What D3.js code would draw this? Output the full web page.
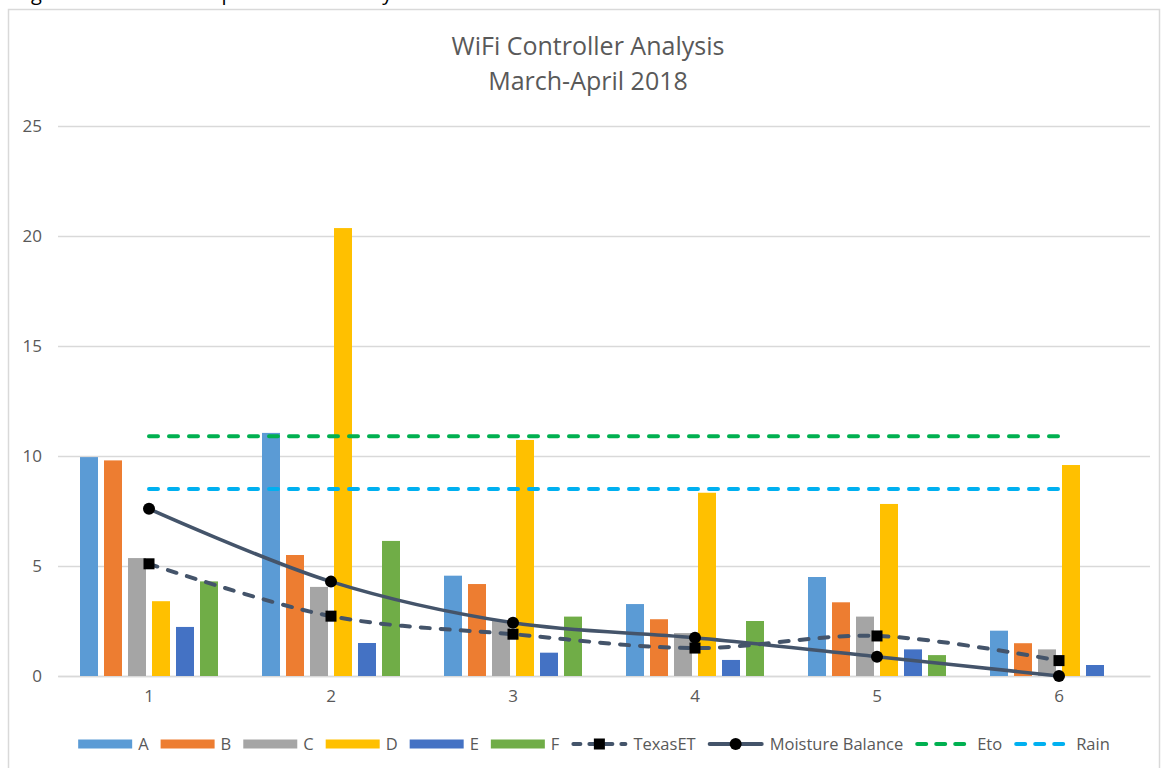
<!DOCTYPE html>
<html>
<head>
<meta charset="utf-8">
<script src="https://cdn.jsdelivr.net/npm/d3@7"></script>
<style>
  body { margin: 0; background: #fff; }
  svg { display: block; font-family: "Open Sans", "Noto Sans", sans-serif; }
</style>
</head>
<body>
<svg id="chart" width="1163" height="768"></svg>
<script>
// data
const categories = ["1", "2", "3", "4", "5", "6"];
const barSeries = ["A", "B", "C", "D", "E", "F"];
const barColors = ["#5B9BD5", "#ED7D31", "#A5A5A5", "#FFC000", "#4472C4", "#70AD47"];
const valuesA = [9.95, 11.05, 4.56, 3.27, 4.5, 2.06];
const valuesB = [9.8, 5.5, 4.18, 2.58, 3.35, 1.49];
const valuesC = [5.36, 4.05, 2.55, 1.95, 2.7, 1.21];
const valuesD = [3.4, 20.36, 10.73, 8.33, 7.82, 9.59];
const valuesE = [2.23, 1.5, 1.06, 0.73, 1.21, 0.5];
const valuesF = [4.3, 6.14, 2.7, 2.5, 0.95, 0];
const texasET = [5.1, 2.72, 1.9, 1.27, 1.82, 0.7];
const moistureBalance = [7.6, 4.29, 2.42, 1.74, 0.88, 0];
const eto = [10.9, 10.9, 10.9, 10.9, 10.9, 10.9];
const rain = [8.5, 8.5, 8.5, 8.5, 8.5, 8.5];
const yTicks = [0, 5, 10, 15, 20, 25];

const barValues = [valuesA, valuesB, valuesC, valuesD, valuesE, valuesF];

const svg = d3.select("#chart");
const textColor = "#595959";
const gridColor = "#d9d9d9";

// chart frame
svg.append("rect")
   .attr("x", 8.5).attr("y", 9.5)
   .attr("width", 1151).attr("height", 780)
   .attr("fill", "none").attr("stroke", "#d9d9d9").attr("stroke-width", 1.5);

// caption of the document, mostly cut off at the top
svg.append("text")
   .attr("x", 10).attr("y", 0)
   .attr("font-size", 20).attr("fill", "#000")
   .attr("textLength", 415)
   .text("Figure 4. March-April WiFi Analysis");

const x = d3.scaleBand().domain(categories).range([58, 1150]);
const xInner = d3.scaleBand().domain(barSeries)
    .range([-x.bandwidth() * 72 / 182, x.bandwidth() * 72 / 182])
    .paddingInner(0.25).paddingOuter(0.125);
const y = d3.scaleLinear().domain([0, 25]).range([676, 126]);
const cx = c => x(c) + x.bandwidth() / 2;

// title
const title = svg.append("text")
   .attr("x", 588).attr("text-anchor", "middle")
   .style("font-size", "25px").attr("fill", textColor);
title.append("tspan").attr("x", 588).attr("y", 55).text("WiFi Controller Analysis");
title.append("tspan").attr("x", 588).attr("y", 90).text("March-April 2018");

// grid + y labels
const yAxis = d3.axisLeft(y).tickValues(yTicks).tickSize(-(1150 - 58)).tickPadding(16);
const gy = svg.append("g").attr("transform", "translate(58,0)").call(yAxis);
gy.select(".domain").remove();
gy.selectAll(".tick line").attr("stroke", gridColor).attr("stroke-width", 1.3);
gy.selectAll(".tick text").attr("fill", textColor)
  .style("font-size", "17px").style("font-family", "Open Sans, sans-serif");

// x axis
const xAxis = d3.axisBottom(x).tickSize(0).tickPadding(14);
const gx = svg.append("g").attr("transform", "translate(0,676)").call(xAxis);
gx.select(".domain").attr("stroke", gridColor).attr("stroke-width", 1.3);
gx.selectAll(".tick text").attr("fill", textColor)
  .style("font-size", "17px").style("font-family", "Open Sans, sans-serif");

// bars
barSeries.forEach((s, i) => {
  svg.append("g").selectAll("rect")
     .data(categories.map((c, j) => ({ c, v: barValues[i][j] })))
     .join("rect")
     .attr("x", d => cx(d.c) + xInner(s))
     .attr("width", xInner.bandwidth())
     .attr("y", d => y(d.v))
     .attr("height", d => y(0) - y(d.v))
     .attr("fill", barColors[i]);
});

// reference lines
function drawLine(vals, color, dash, width, curve) {
  const line = d3.line()
     .x((d, i) => cx(categories[i]))
     .y(d => y(d))
     .curve(curve || d3.curveLinear);
  svg.append("path")
     .attr("d", line(vals))
     .attr("fill", "none")
     .attr("stroke", color)
     .attr("stroke-width", width)
     .attr("stroke-dasharray", dash)
     .attr("stroke-linecap", dash ? "round" : "butt");
}

drawLine(eto, "#00B050", "9 11", 4);
drawLine(rain, "#00B0F0", "9 11", 4);
drawLine(texasET, "#44546A", "9 11", 4, d3.curveCatmullRom);
drawLine(moistureBalance, "#44546A", null, 3.5, d3.curveCatmullRom);

// markers
svg.append("g").selectAll("rect")
   .data(texasET)
   .join("rect")
   .attr("x", (d, i) => cx(categories[i]) - 5.5)
   .attr("y", d => y(d) - 5.5)
   .attr("width", 11).attr("height", 11)
   .attr("fill", "#000");

svg.append("g").selectAll("circle")
   .data(moistureBalance)
   .join("circle")
   .attr("cx", (d, i) => cx(categories[i]))
   .attr("cy", d => y(d))
   .attr("r", 6)
   .attr("fill", "#000");

// legend
const legendItems = barSeries.map((s, i) => ({ name: s, type: "bar", color: barColors[i] }))
  .concat([
    { name: "TexasET", type: "line", color: "#44546A", dash: "7 9", marker: "square" },
    { name: "Moisture Balance", type: "line", color: "#44546A", marker: "circle" },
    { name: "Eto", type: "line", color: "#00B050", dash: "9 10" },
    { name: "Rain", type: "line", color: "#00B0F0", dash: "9 10" }
  ]);

const legend = svg.append("g");
let cursor = 0;
const ly = 744;
legendItems.forEach(it => {
  const g = legend.append("g");
  const sw = it.type === "bar" ? 54 : 56;
  if (it.type === "bar") {
    g.append("rect").attr("x", cursor).attr("y", ly - 4.5)
     .attr("width", sw).attr("height", 9).attr("fill", it.color);
  } else {
    g.append("line")
     .attr("x1", cursor + 2).attr("x2", cursor + sw - 2)
     .attr("y1", ly).attr("y2", ly)
     .attr("stroke", it.color).attr("stroke-width", 4)
     .attr("stroke-linecap", "round")
     .attr("stroke-dasharray", it.dash || null);
    if (it.marker === "square") {
      g.append("rect").attr("x", cursor + sw / 2 - 5.5).attr("y", ly - 5.5)
       .attr("width", 11).attr("height", 11).attr("fill", "#000");
    } else if (it.marker === "circle") {
      g.append("circle").attr("cx", cursor + sw / 2).attr("cy", ly)
       .attr("r", 6).attr("fill", "#000");
    }
  }
  const t = g.append("text")
     .attr("x", cursor + sw + 6).attr("y", ly + 6)
     .style("font-size", "16.5px").attr("fill", textColor)
     .text(it.name);
  cursor += sw + 6 + t.node().getComputedTextLength() + 12;
});
const total = cursor - 12;
legend.attr("transform", `translate(${594 - total / 2},0)`);
</script>
</body>
</html>
